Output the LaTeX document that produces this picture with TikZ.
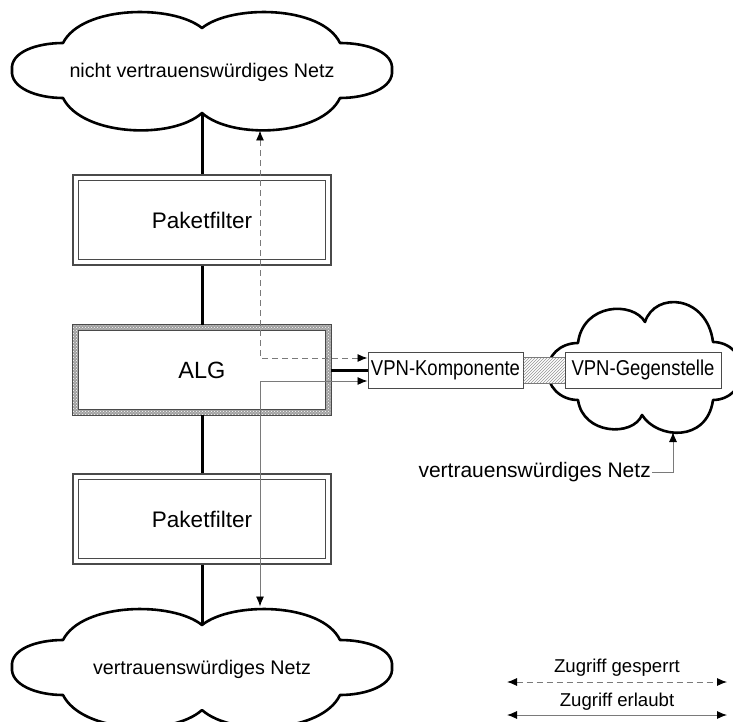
\documentclass[tikz,border=0pt]{standalone}
\usepackage{fontspec}
\setmainfont{Liberation Sans}
\newfontfamily\narrowfont[FakeStretch=0.86]{Liberation Sans}
\usetikzlibrary{arrows.meta,patterns}
\definecolor{lineg}{HTML}{7A7A7A}
\definecolor{boxg}{HTML}{4A4A4A}
\definecolor{bandg}{HTML}{A0A0A0}
\tikzset{
  cloudline/.style={line width=2.6pt, black, fill=white, line join=round},
  trunk/.style={line width=3pt, black},
  pfbox/.style={draw=boxg, line width=1.1pt, fill=white, minimum width=258pt,
    minimum height=90pt, inner sep=0pt, font=\fontsize{22.5}{26}\selectfont},
  innerline/.style={draw=boxg, line width=1.1pt},
  vpnbox/.style={draw=boxg, line width=1pt, fill=white, minimum height=36pt,
    inner sep=0pt, font=\narrowfont\fontsize{21.5}{25}\selectfont},
  cloudtext/.style={inner sep=0pt, font=\fontsize{19.7}{23}\selectfont},
  legendtext/.style={inner sep=0pt, font=\fontsize{18.6}{22}\selectfont},
  tipend/.style={-{Latex[length=10pt,width=8pt,color=black]}},
  tipboth/.style={{Latex[length=10pt,width=8pt,color=black]}-{Latex[length=10pt,width=8pt,color=black]}},
  blocked/.style={lineg, line width=0.9pt, dash pattern=on 6pt off 4pt},
  allowed/.style={lineg, line width=0.9pt},
  bigcloud/.pic={
    \draw[cloudline] (-190,0) .. controls (-192,-18) and (-165,-27) .. (-139,-27)
      .. controls (-120,-64.5) and (-30,-66) .. (0,-42)
      .. controls (30,-66) and (120,-64.5) .. (138,-27)
      .. controls (165,-27) and (192,-18) .. (190,0)
      .. controls (192,18) and (165,28) .. (138,28)
      .. controls (120,66) and (30,70) .. (0,43)
      .. controls (-30,70) and (-120,66) .. (-139,28)
      .. controls (-165,28) and (-192,18) .. (-190,0) -- cycle;
  },
  smallcloud/.pic={
    \draw[cloudline] (-97,0) .. controls (-98,-15) and (-85,-28) .. (-67,-28)
      .. controls (-62,-68) and (-12,-70) .. (0,-49)
      .. controls (10,-80) and (62,-76) .. (68,-29)
      .. controls (85,-29) and (98,-15) .. (97,0)
      .. controls (98,15) and (85,29) .. (68,29)
      .. controls (62,72) and (12,68) .. (-3,44)
      .. controls (-12,66) and (-62,64) .. (-67,29)
      .. controls (-85,29) and (-98,15) .. (-97,0) -- cycle;
  }
}
\begin{document}
\begin{tikzpicture}[x=1pt,y=-1pt]
\useasboundingbox (0,0) rectangle (733,722);
\clip (0,0) rectangle (733,722);

% clouds
\pic at (202,70) {bigcloud};
\pic at (202,667) {bigcloud};
\pic at (645,371) {smallcloud};
\node[cloudtext] (topnet) at (202,72) {nicht vertrauenswürdiges Netz};
\node[cloudtext] (botnet) at (202,669) {vertrauenswürdiges Netz};

% cloud attachment points
\coordinate (topjoin) at (202,113);
\coordinate (botjoin) at (202,625);
\coordinate (topport) at (260,130.5);
\coordinate (botport) at (260,606.5);
\coordinate (vpnport) at (673,432);

% boxes
\node[pfbox] (pf1) at (202,220) {Paketfilter};
\draw[innerline] ([shift={(6,6)}]pf1.north west) rectangle ([shift={(-6,-6)}]pf1.south east);

\node[minimum width=258pt, minimum height=90pt, inner sep=0pt, fill=bandg] (alg) at (202,370) {};
\fill[pattern=crosshatch dots, pattern color=white] (alg.north west) rectangle (alg.south east);
\draw[boxg, line width=1pt] (alg.north west) rectangle (alg.south east);
\draw[boxg, line width=1pt, fill=white] ([shift={(6,6)}]alg.north west) rectangle ([shift={(-6,-6)}]alg.south east);
\node[font=\fontsize{23.5}{27}\selectfont] (algtext) at (alg.center) {ALG};

\node[pfbox] (pf2) at (202,519) {Paketfilter};
\draw[innerline] ([shift={(6,6)}]pf2.north west) rectangle ([shift={(-6,-6)}]pf2.south east);

% VPN
\node[vpnbox, minimum width=155pt] (vpnk) at (445.5,370) {VPN-Komponente};
\node[vpnbox, minimum width=156pt] (vpng) at (643,370) {VPN-Gegenstelle};
\fill[white] ([yshift=13pt]vpnk.east) rectangle ([yshift=-13pt]vpng.west);
\fill[pattern=north east lines, pattern color=lineg!80] ([yshift=13pt]vpnk.east) rectangle ([yshift=-13pt]vpng.west);
\draw[lineg, line width=0.8pt] ([yshift=13pt]vpnk.east) -- ([yshift=13pt]vpng.west)
  ([yshift=-13pt]vpnk.east) -- ([yshift=-13pt]vpng.west);

% trunk lines
\draw[trunk] (topjoin) -- (pf1.north);
\draw[trunk] (pf1.south) -- (alg.north);
\draw[trunk] (alg.south) -- (pf2.north);
\draw[trunk] (pf2.south) -- (botjoin);
\draw[trunk] (alg.east) -- (vpnk.west);

% access paths
\draw[blocked, tipboth] (topport) |- ([yshift=12pt]vpnk.west);
\draw[allowed, tipboth] (botport) |- ([yshift=-11pt]vpnk.west);

% label for right cloud
\node[anchor=east, inner sep=1pt, font=\fontsize{21}{25}\selectfont] (vpnnet) at (652,472) {vertrauenswürdiges Netz};
\draw[allowed, tipend] (vpnnet.east) -| (vpnport);

% legend
\coordinate (lg1a) at (507,682);
\coordinate (lg1b) at (727,682);
\coordinate (lg2a) at (507,715);
\coordinate (lg2b) at (727,715);
\node[legendtext] (lgt1) at (617,668) {Zugriff gesperrt};
\node[legendtext] (lgt2) at (617,702) {Zugriff erlaubt};
\draw[blocked, tipboth] (lg1a) -- (lg1b);
\draw[allowed, tipboth] (lg2a) -- (lg2b);
\end{tikzpicture}
\end{document}
